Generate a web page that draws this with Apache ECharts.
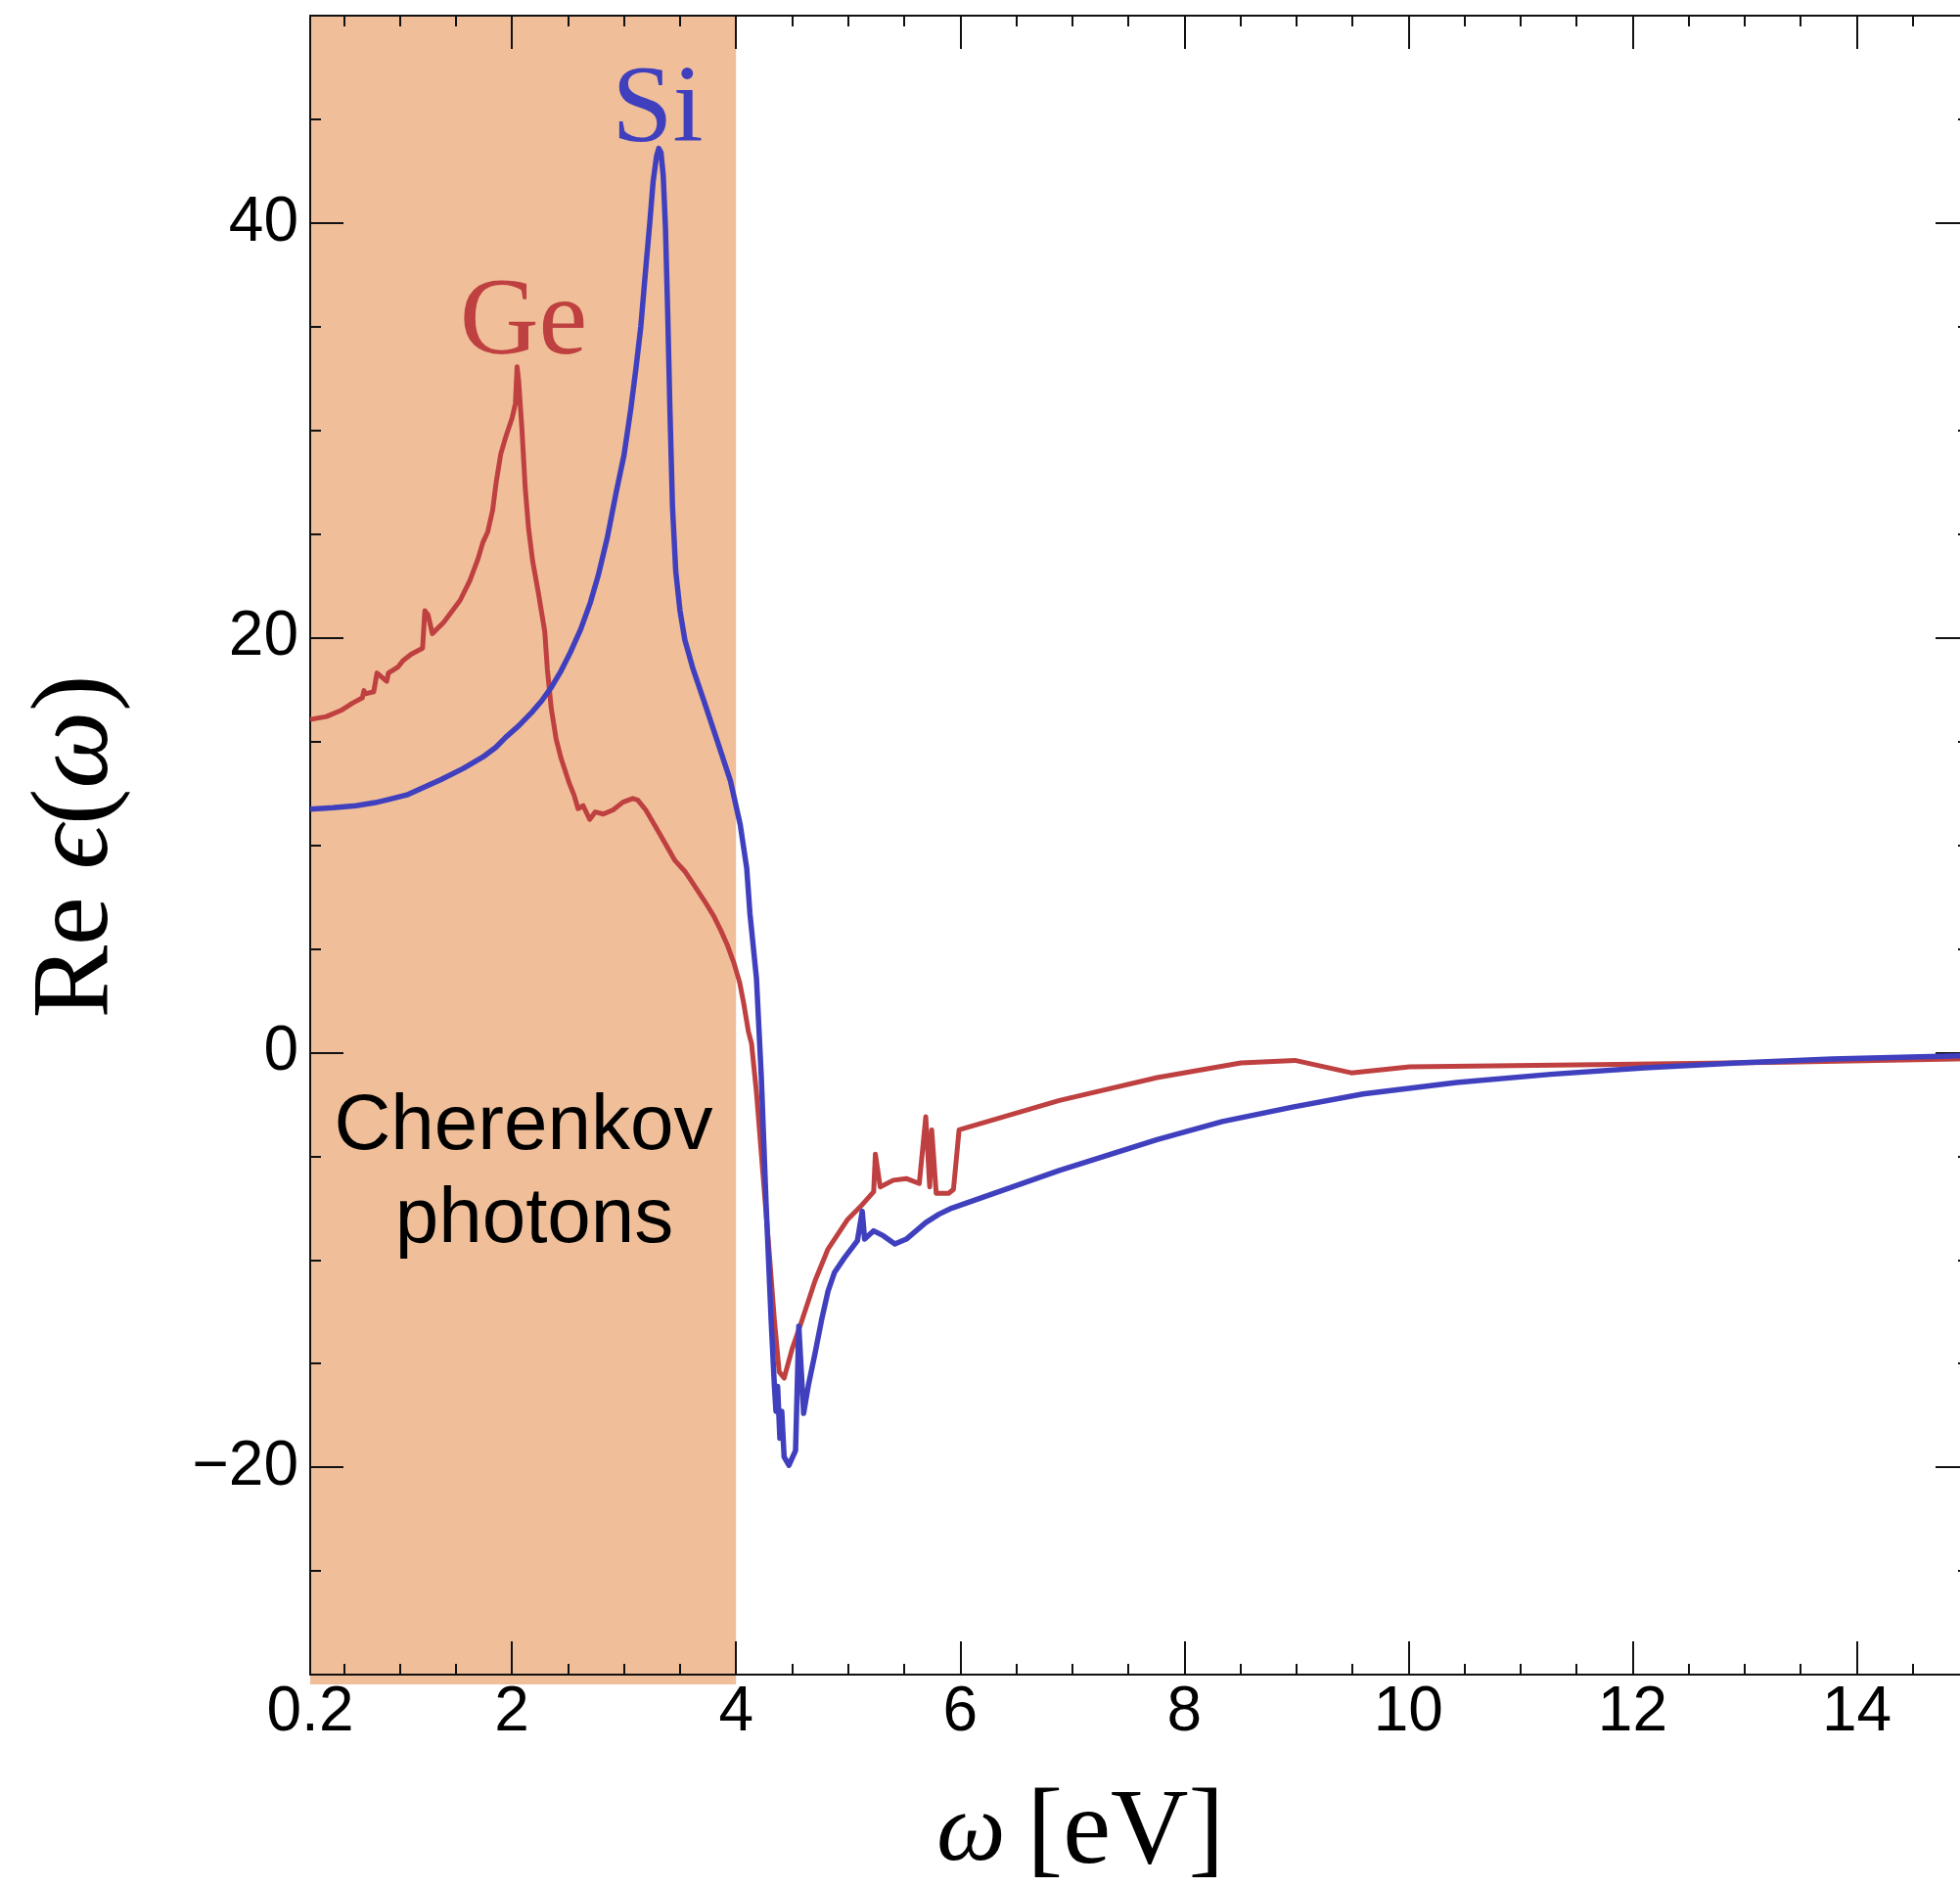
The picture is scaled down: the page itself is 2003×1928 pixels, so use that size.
<!DOCTYPE html>
<html>
<head>
<meta charset="utf-8">
<script src="https://cdn.jsdelivr.net/npm/echarts@6/dist/echarts.min.js"></script>
<style>
html,body{margin:0;padding:0;background:#fff;overflow:hidden;width:2003px;height:1928px;}
#c{width:2024px;height:1928px;}
</style>
</head>
<body>
<div id="c"></div>
<script>
// ---------- data ----------
const geOmega = [0.2, 0.345, 0.476, 0.578, 0.665, 0.68, 0.694, 0.767, 0.796, 0.883,
  0.898, 0.985, 1.028, 1.1, 1.203, 1.223, 1.252, 1.29, 1.392, 1.537,
  1.624, 1.697, 1.741, 1.784, 1.828, 1.857, 1.9, 1.944, 2.002, 2.031,
  2.046, 2.06, 2.09, 2.119, 2.148, 2.185, 2.235, 2.293, 2.316, 2.351,
  2.395, 2.438, 2.511, 2.555, 2.59, 2.636, 2.694, 2.744, 2.816, 2.903,
  2.99, 3.078, 3.122, 3.194, 3.281, 3.369, 3.456, 3.543, 3.63, 3.717,
  3.805, 3.863, 3.921, 3.98, 4.031, 4.066, 4.11, 4.138, 4.182, 4.24,
  4.298, 4.342, 4.385, 4.429, 4.5, 4.589, 4.705, 4.821, 4.996, 5.112,
  5.228, 5.243, 5.286, 5.403, 5.519, 5.635, 5.693, 5.728, 5.746, 5.786,
  5.897, 5.94, 5.99, 6.885, 7.757, 8.505, 8.987, 9.49, 10.01, 11.69,
  13.36, 15];
const geEps = [16.06, 16.2, 16.5, 16.85, 17.1, 17.45, 17.3, 17.4, 18.3, 17.9,
  18.3, 18.6, 18.9, 19.2, 19.5, 21.3, 21.1, 20.2, 20.75, 21.8,
  22.75, 23.8, 24.6, 25.1, 26.15, 27.4, 28.85, 29.67, 30.6, 31.3,
  33.07, 32.4, 30.0, 27.2, 25.3, 23.7, 22.2, 20.3, 18.5, 16.6,
  15.1, 14.2, 13.0, 12.4, 11.76, 11.9, 11.24, 11.6, 11.5, 11.7,
  12.07, 12.25, 12.18, 11.7, 10.9, 10.07, 9.25, 8.74, 8.03, 7.32,
  6.54, 5.9, 5.2, 4.33, 3.4, 2.44, 1.02, 0.44, -1.92, -5.85,
  -9.78, -12.9, -15.4, -15.7, -14.3, -12.9, -11.0, -9.47, -8.05, -7.42,
  -6.71, -4.9, -6.48, -6.16, -6.08, -6.32, -3.1, -6.48, -3.73, -6.79,
  -6.79, -6.6, -3.73, -2.31, -1.21, -0.5, -0.38, -0.98, -0.69, -0.58,
  -0.47, -0.3];

const siOmega = [0.2, 0.403, 0.607, 0.781, 0.898, 1.072, 1.217, 1.363, 1.566, 1.741,
  1.857, 1.944, 2.06, 2.177, 2.264, 2.351, 2.438, 2.526, 2.613, 2.7,
  2.77, 2.85, 2.93, 3.0, 3.06, 3.107, 3.15, 3.194, 3.23, 3.26,
  3.29, 3.31, 3.33, 3.35, 3.37, 3.39, 3.41, 3.433, 3.462, 3.5,
  3.543, 3.616, 3.717, 3.834, 3.95, 4.037, 4.095, 4.124, 4.182, 4.225,
  4.269, 4.313, 4.342, 4.356, 4.371, 4.391, 4.408, 4.429, 4.472, 4.531,
  4.56, 4.603, 4.647, 4.705, 4.763, 4.821, 4.879, 4.967, 5.083, 5.126,
  5.147, 5.228, 5.315, 5.417, 5.519, 5.693, 5.81, 5.926, 6.885, 7.757,
  8.34, 8.966, 9.594, 10.43, 11.27, 12.11, 12.94, 13.78, 15];
const siEps = [11.73, 11.8, 11.9, 12.05, 12.2, 12.44, 12.8, 13.15, 13.7, 14.25,
  14.72, 15.2, 15.75, 16.4, 16.95, 17.6, 18.4, 19.35, 20.4, 21.7,
  23.0, 24.8, 27.0, 28.8, 31.0, 33.0, 35.0, 37.8, 40.0, 42.0,
  43.2, 43.6, 43.4, 42.3, 39.8, 35.7, 31.0, 26.3, 23.2, 21.3,
  19.9, 18.5, 16.9, 15.0, 13.1, 11.0, 8.9, 6.7, 3.585, -1.13,
  -7.42, -12.9, -16.07, -17.3, -16.1, -18.6, -17.3, -19.5, -19.9, -19.2,
  -13.2, -17.4, -16.0, -14.5, -12.9, -11.5, -10.6, -9.9, -9.07, -7.66,
  -9.0, -8.6, -8.84, -9.23, -9.0, -8.2, -7.8, -7.5, -5.69, -4.2,
  -3.33, -2.63, -2.0, -1.45, -1.05, -0.74, -0.5, -0.31, -0.15];

// Cherenkov band (omega range)
const bandOmega = [0.2, 4];

// axes
const xRange = [0.2, 15];
const yRange = [-30, 50];
const xLabelValues = [0.2, 2, 4, 6, 8, 10, 12, 14];
const xMajorTicks = [2, 4, 6, 8, 10, 12, 14];
const xMinorTicks = [0.5, 1, 1.5, 2.5, 3, 3.5, 4.5, 5, 5.5, 6.5, 7, 7.5, 8.5, 9, 9.5,
  10.5, 11, 11.5, 12.5, 13, 13.5, 14.5];
const yLabelValues = [-20, 0, 20, 40];
const yMajorTicks = [-20, 0, 20, 40];
const yMinorTicks = [-30, -25, -15, -10, -5, 5, 10, 15, 25, 30, 35, 45, 50];

// ---------- chart ----------
const RED = '#bf4040';
const BLUE = '#4040bf';
const BAND = '#f0bf99';
const INK = '#111';
const SANS = "'Liberation Sans', Arial, Helvetica, sans-serif";
const SERIF = "'Liberation Serif', 'DejaVu Serif', 'Times New Roman', serif";

const gridRect = {left: 317, top: 16, width: 1695, height: 1695};

function zipXY(xs, ys) { return xs.map((x, i) => [x, ys[i]]); }

function xAxisCfg(gridIndex, position, ticks, len, withLine, labels) {
  return {
    type: 'value', gridIndex, position, min: xRange[0], max: xRange[1], z: 3,
    axisLine: {show: withLine, onZero: false, lineStyle: {color: INK, width: 2}},
    axisTick: {show: true, inside: true, length: len, customValues: ticks,
      lineStyle: {color: INK, width: 2}},
    axisLabel: labels ? {show: true, customValues: labels, color: '#000',
      fontFamily: SANS, fontSize: 64, margin: 7,
      formatter: v => String(v)} : {show: false},
    splitLine: {show: false}, minorTick: {show: false}
  };
}
function yAxisCfg(gridIndex, position, ticks, len, withLine, labels) {
  return {
    type: 'value', gridIndex, position, min: yRange[0], max: yRange[1], z: 3,
    axisLine: {show: withLine, onZero: false, lineStyle: {color: INK, width: 2}},
    axisTick: {show: true, inside: true, length: len, customValues: ticks,
      lineStyle: {color: INK, width: 2}},
    axisLabel: labels ? {show: true, customValues: labels, color: '#000',
      fontFamily: SANS, fontSize: 64, margin: 12, padding: [0, 0, 10, 0],
      formatter: v => String(v).replace('-', '\u2212')} : {show: false},
    splitLine: {show: false}, minorTick: {show: false}
  };
}

const chart = echarts.init(document.getElementById('c'), null, {renderer: 'canvas', width: 2024, height: 1928});

const option = {
  animation: false,
  backgroundColor: '#fff',
  grid: [
    Object.assign({containLabel: false}, gridRect),
    Object.assign({containLabel: false}, gridRect)
  ],
  xAxis: [
    xAxisCfg(0, 'bottom', xMajorTicks, 34, true, xLabelValues),
    xAxisCfg(0, 'top', xMajorTicks, 34, true, null),
    xAxisCfg(1, 'bottom', xMinorTicks, 11, false, null),
    xAxisCfg(1, 'top', xMinorTicks, 11, false, null)
  ],
  yAxis: [
    yAxisCfg(0, 'left', yMajorTicks, 34, true, yLabelValues),
    yAxisCfg(0, 'right', yMajorTicks, 34, true, null),
    yAxisCfg(1, 'left', yMinorTicks, 11, false, null),
    yAxisCfg(1, 'right', yMinorTicks, 11, false, null)
  ],
  series: [
    {
      type: 'custom', xAxisIndex: 0, yAxisIndex: 0, z: 1, silent: true, clip: false,
      data: [[bandOmega[0], bandOmega[1]]],
      renderItem: function (params, api) {
        const p0 = api.coord([api.value(0), yRange[1]]);
        const p1 = api.coord([api.value(1), yRange[0]]);
        return {
          type: 'rect',
          shape: {x: p0[0], y: p0[1], width: p1[0] - p0[0], height: p1[1] - p0[1] + 10},
          style: {fill: BAND}
        };
      }
    },
    {
      type: 'line', name: 'Ge', xAxisIndex: 0, yAxisIndex: 0, z: 4,
      data: zipXY(geOmega, geEps), showSymbol: false, symbol: 'none',
      lineStyle: {color: RED, width: 5, join: 'round'}, clip: true
    },
    {
      type: 'line', name: 'Si', xAxisIndex: 0, yAxisIndex: 0, z: 5,
      data: zipXY(siOmega, siEps), showSymbol: false, symbol: 'none',
      lineStyle: {color: BLUE, width: 5.5, join: 'round'}, clip: true
    }
  ],
  graphic: [
    {
      type: 'text', x: 535, y: 1152, z: 10,
      style: {text: 'Cherenkov', fill: '#000', fontFamily: SANS, fontSize: 80,
        align: 'center', verticalAlign: 'middle', textAlign: 'center', textVerticalAlign: 'middle'}
    },
    {
      type: 'text', x: 546, y: 1247, z: 10,
      style: {text: 'photons', fill: '#000', fontFamily: SANS, fontSize: 80,
        align: 'center', verticalAlign: 'middle', textAlign: 'center', textVerticalAlign: 'middle'}
    },
    {
      type: 'text', x: 535, y: 332, z: 10,
      style: {text: 'Ge', fill: RED, fontFamily: SERIF, fontSize: 112,
        align: 'center', verticalAlign: 'middle', textAlign: 'center', textVerticalAlign: 'middle'}
    },
    {
      type: 'text', x: 672, y: 115, z: 10,
      style: {text: 'Si', fill: BLUE, fontFamily: SERIF, fontSize: 112,
        align: 'center', verticalAlign: 'middle', textAlign: 'center', textVerticalAlign: 'middle'}
    },
    {
      type: 'text', x: 1104, y: 1874, z: 10,
      style: {
        text: '{i|\u03C9}{n|[eV]}',
        fill: '#000', fontFamily: SERIF, fontSize: 110,
        align: 'center', verticalAlign: 'middle', textAlign: 'center', textVerticalAlign: 'middle',
        rich: {
          i: {fontFamily: SERIF, fontSize: 100, fontStyle: 'italic', fill: '#000', padding: [0, 22, 0, 0]},
          n: {fontFamily: SERIF, fontSize: 110, fill: '#000'}
        }
      }
    },
    {
      type: 'text', x: 80, y: 865, z: 10, rotation: Math.PI / 2,
      style: {
        text: '{n|Re }{i|\u03F5}{n|(}{i|\u03C9}{n|)}',
        fill: '#000', fontFamily: SERIF, fontSize: 112,
        align: 'center', verticalAlign: 'middle', textAlign: 'center', textVerticalAlign: 'middle',
        rich: {
          i: {fontFamily: SERIF, fontSize: 112, fontStyle: 'italic', fill: '#000'},
          n: {fontFamily: SERIF, fontSize: 112, fill: '#000'}
        }
      }
    }
  ]
};
chart.setOption(option);
</script>
</body>
</html>
